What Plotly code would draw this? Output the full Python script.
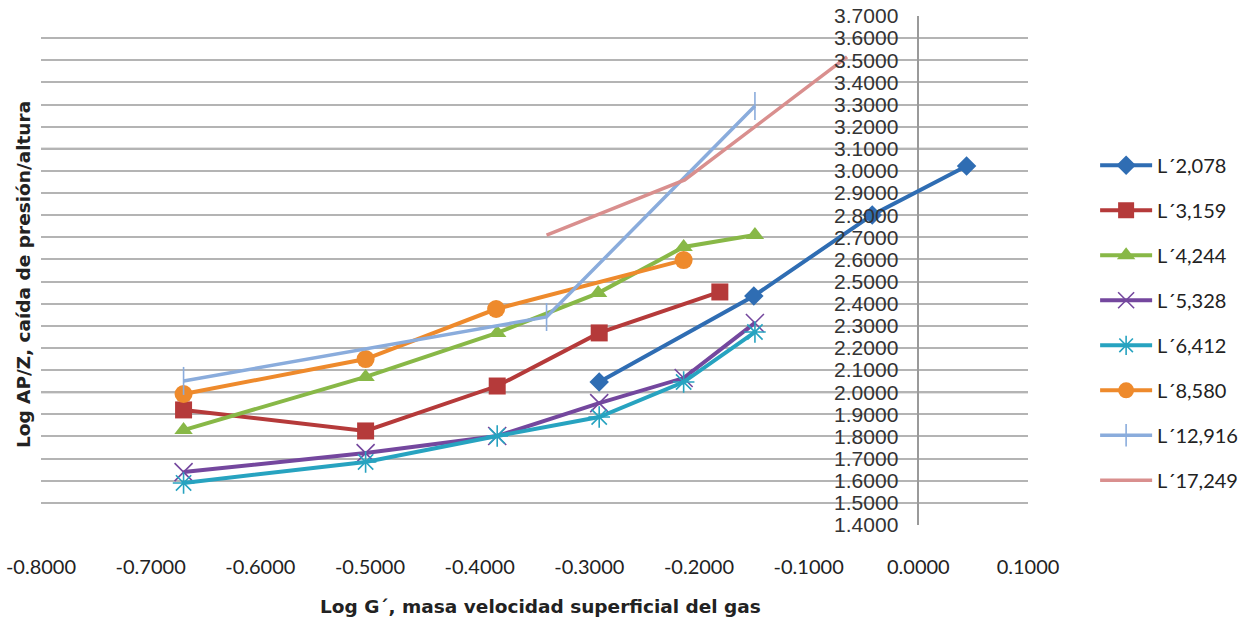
import plotly.graph_objects as go

# ---- data ----
series_names = ["L´2,078", "L´3,159", "L´4,244", "L´5,328", "L´6,412", "L´8,580", "L´12,916", "L´17,249"]

G_L2078 = [-0.291, -0.150, -0.042, 0.044]
P_L2078 = [2.046, 2.435, 2.801, 3.022]

G_L3159 = [-0.670, -0.504, -0.384, -0.291, -0.181]
P_L3159 = [1.920, 1.825, 2.028, 2.268, 2.453]

G_L4244 = [-0.670, -0.504, -0.384, -0.292, -0.214, -0.149]
P_L4244 = [1.829, 2.069, 2.268, 2.448, 2.656, 2.710]

G_L5328 = [-0.670, -0.504, -0.384, -0.291, -0.214, -0.149]
P_L5328 = [1.639, 1.725, 1.802, 1.951, 2.064, 2.313]

G_L6412 = [-0.670, -0.504, -0.384, -0.291, -0.214, -0.149]
P_L6412 = [1.590, 1.685, 1.802, 1.888, 2.046, 2.272]

G_L8580 = [-0.670, -0.504, -0.385, -0.214]
P_L8580 = [1.992, 2.150, 2.376, 2.597]

G_L12916 = [-0.670, -0.339, -0.149]
P_L12916 = [2.051, 2.340, 3.293]

G_L17249 = [-0.339, -0.213, -0.065]
P_L17249 = [2.710, 2.959, 3.515]

x_ticks = [-0.8, -0.7, -0.6, -0.5, -0.4, -0.3, -0.2, -0.1, 0.0, 0.1]
x_ticktext = ["-0.8000", "-0.7000", "-0.6000", "-0.5000", "-0.4000", "-0.3000",
              "-0.2000", "-0.1000", "0.0000", "0.1000"]
y_ticks = [1.4, 1.5, 1.6, 1.7, 1.8, 1.9, 2.0, 2.1, 2.2, 2.3, 2.4, 2.5, 2.6, 2.7,
           2.8, 2.9, 3.0, 3.1, 3.2, 3.3, 3.4, 3.5, 3.6, 3.7]
dark_grid = [2.0, 3.1]

xs = [G_L2078, G_L3159, G_L4244, G_L5328, G_L6412, G_L8580, G_L12916, G_L17249]
ys = [P_L2078, P_L3159, P_L4244, P_L5328, P_L6412, P_L8580, P_L12916, P_L17249]

colors = ["#2f6db3", "#b53a3a", "#88b847", "#74479e", "#27a3c0", "#ee8a2c", "#8aacdc", "#d98f8e"]
symbols = ["diamond", "square", "triangle-up", "x-thin", "asterisk", "circle", "line-ns", None]
msizes = [15, 17, 16, 18, 18, 18, 20, 0]
lwidths = [4, 4, 4, 4, 4, 4, 3.5, 3.5]

fig = go.Figure()
for i, name in enumerate(series_names):
    sym = symbols[i]
    if sym is None:
        mode = "lines"
        marker = None
    else:
        mode = "lines+markers"
        thin = sym in ("x-thin", "asterisk", "line-ns")
        marker = dict(symbol=sym, size=msizes[i], color=colors[i],
                      line=dict(width=1.6 if thin else 0, color=colors[i]))
    fig.add_trace(go.Scatter(
        x=xs[i], y=ys[i], name=name, mode=mode,
        line=dict(color=colors[i], width=lwidths[i]),
        marker=marker, legendgroup=name,
    ))

for yv in dark_grid:
    fig.add_shape(type="line", xref="x", yref="y", x0=x_ticks[0], x1=x_ticks[-1], y0=yv, y1=yv,
                  line=dict(color="#8a8a8a", width=2), layer="below")

fig.update_layout(
    width=1247, height=628,
    margin=dict(l=41, r=219, t=16, b=103, autoexpand=False),
    paper_bgcolor="white", plot_bgcolor="white",
    xaxis=dict(range=[x_ticks[0], x_ticks[-1]], tickvals=x_ticks, ticktext=x_ticktext,
               showgrid=False, zeroline=True, zerolinecolor="#9a9a9a", zerolinewidth=1.5,
               showline=False, ticks="", ticklabelstandoff=28, automargin=False,
               tickfont=dict(family="Lato", size=20, color="#222")),
    yaxis=dict(range=[y_ticks[0], y_ticks[-1]], tickvals=y_ticks, tickformat=".4f",
               anchor="free", position=0.8 / 0.9, showgrid=True, gridcolor="#b4b4b4", gridwidth=1.5,
               zeroline=False, showline=False, ticks="", ticklabelstandoff=20, automargin=False,
               tickfont=dict(family="Liberation Sans", size=21, color="#333")),
    legend=dict(x=1.068, y=0.745, xanchor="left", yanchor="top",
                font=dict(family="Lato", size=20, color="#222"),
                itemwidth=52, tracegroupgap=16, bgcolor="rgba(0,0,0,0)"),
    showlegend=True,
    annotations=[
        dict(text="<b>Log G´, masa velocidad superficial del gas</b>", xref="paper", yref="paper",
             x=0.5056, y=-0.161, xanchor="center", yanchor="middle", showarrow=False,
             font=dict(family="DejaVu Sans", size=18.5, color="#222")),
        dict(text="<b>Log AP/Z, caída de presión/altura</b>", xref="paper", yref="paper",
             x=-0.0182, y=0.491, xanchor="center", yanchor="middle", showarrow=False, textangle=-90,
             font=dict(family="DejaVu Sans", size=18.5, color="#222")),
    ],
)

fig.write_html("out.html", config={"displayModeBar": False},
               post_script="document.body.style.margin='0';")
